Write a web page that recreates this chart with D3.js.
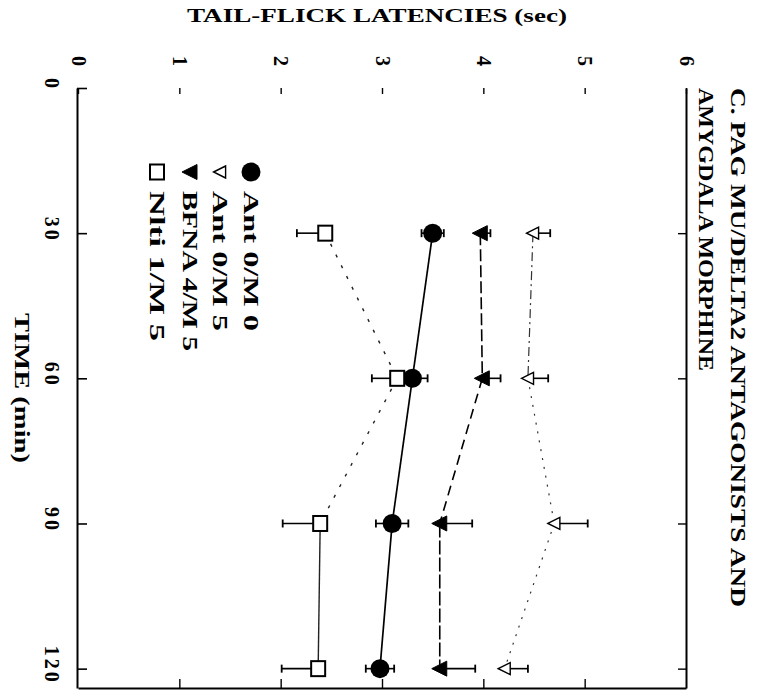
<!DOCTYPE html>
<html>
<head>
<meta charset="utf-8">
<script src="https://cdn.jsdelivr.net/npm/d3@7/dist/d3.min.js"></script>
<style>
  html, body { margin: 0; padding: 0; background: #fff; }
  svg { display: block; }
  text { font-family: "Liberation Serif", "DejaVu Serif", serif; font-weight: bold; fill: #000; }
</style>
</head>
<body>
<svg id="chart" width="760" height="698"></svg>
<script>
// Tail-flick latencies over time, page turned a quarter turn clockwise:
// time runs down the page, latency runs left to right.
const times = [30, 60, 90, 120];
const timeTicks = [0, 30, 60, 90, 120];
const latencyTicks = [0, 1, 2, 3, 4, 5, 6];

const seriesNames = ["Ant 0/M 0", "Ant 0/M 5", "BFNA 4/M 5", "Nlti 1/M 5"];
const antM0 = [3.50, 3.30, 3.10, 2.98];
const antM0Err = [0.11, 0.15, 0.16, 0.14];
const antM5 = [4.49, 4.44, 4.70, 4.21];
const antM5Err = [0.17, 0.20, 0.33, 0.23];
const bfnaM5 = [3.97, 3.99, 3.57, 3.57];
const bfnaM5Err = [0.10, 0.18, 0.32, 0.35];
const nltiM5 = [2.44, 3.15, 2.39, 2.37];
const nltiM5Err = [0.28, 0.25, 0.37, 0.36];

const axisTitle = "TAIL-FLICK LATENCIES (sec)";
const timeTitle = "TIME (min)";
const panelTitle = ["C. PAG MU/DELTA2 ANTAGONISTS AND", "AMYGDALA MORPHINE"];

const svg = d3.select("#chart");

// scales: latency -> horizontal, time -> vertical
const lat = d3.scaleLinear().domain([0, 6]).range([78, 686]);
const tm = d3.scaleLinear().domain([0, 124]).range([88, 688]);
const intFmt = d3.format("d");

function rotText(sel, x, y, txt, size, len) {
  const t = sel.append("text")
    .attr("transform", `translate(${x},${y}) rotate(90)`)
    .attr("dominant-baseline", "central")
    .style("font-size", size + "px")
    .text(txt);
  if (len) t.attr("textLength", len).attr("lengthAdjust", "spacingAndGlyphs");
  return t;
}

// ---- frame and axes ----
const timeAxis = svg.append("g").attr("transform", `translate(${lat(0) - 1},0)`)
  .call(d3.axisLeft(tm).tickValues(timeTicks).tickFormat(intFmt).tickSizeInner(-10).tickSizeOuter(0));
timeAxis.select(".domain").attr("stroke-width", 2);
timeAxis.selectAll(".tick line").attr("stroke-width", 1.6);
timeAxis.selectAll(".tick text")
  .attr("x", null).attr("dy", null).attr("fill", "#000")
  .attr("text-anchor", "middle").attr("dominant-baseline", "central")
  .attr("transform", "translate(-25,-4) rotate(90)")
  .style("font-size", "20px").style("letter-spacing", "3px");

const latAxis = svg.append("g").attr("transform", `translate(0,${tm(0)})`)
  .call(d3.axisTop(lat).tickValues(latencyTicks).tickFormat(intFmt).tickSizeInner(-6).tickSizeOuter(0));
latAxis.select(".domain").remove();
latAxis.selectAll(".tick line").attr("stroke-width", 1.4);
latAxis.selectAll(".tick text")
  .attr("y", null).attr("dy", null).attr("fill", "#000")
  .attr("text-anchor", "middle").attr("dominant-baseline", "central")
  .attr("transform", "translate(0,-27) rotate(90)")
  .style("font-size", "20px");

const bottomAxis = svg.append("g").attr("transform", `translate(0,${tm(124)})`)
  .call(d3.axisBottom(lat).tickValues([1, 2, 3, 4, 5]).tickSizeInner(-9).tickSizeOuter(0).tickFormat(""));
bottomAxis.select(".domain").attr("stroke-width", 2);
bottomAxis.selectAll(".tick line").attr("stroke-width", 1.4);

const rightAxis = svg.append("g").attr("transform", `translate(${lat(6)},0)`)
  .call(d3.axisRight(tm).tickValues(times).tickSizeInner(-8).tickSizeOuter(0).tickFormat(""));
rightAxis.select(".domain").attr("stroke-width", 2);
rightAxis.selectAll(".tick line").attr("stroke-width", 1.4);

// ---- titles ----
svg.append("text").attr("x", 187).attr("y", 22)
  .attr("textLength", 380).attr("lengthAdjust", "spacingAndGlyphs")
  .style("font-size", "19px").text(axisTitle);
rotText(svg, 22, 313, timeTitle, 20, 150);
rotText(svg, 738, 88, panelTitle[0], 20, 519);
rotText(svg, 706, 88, panelTitle[1], 20, 283);

// ---- series ----
const series = [
  { name: seriesNames[0], values: antM0, err: antM0Err },
  { name: seriesNames[1], values: antM5, err: antM5Err },
  { name: seriesNames[2], values: bfnaM5, err: bfnaM5Err },
  { name: seriesNames[3], values: nltiM5, err: nltiM5Err }
];
const style = {
  "Ant 0/M 0": { marker: "circle", errDir: "both", width: 1.7, stroke: "#000", dash: [null, null, null] },
  "Ant 0/M 5": { marker: "openTri", errDir: "up", width: 1.2, stroke: "#333", dash: ["9,4,2,4", "2,7", "2,7"] },
  "BFNA 4/M 5": { marker: "tri", errDir: "up", width: 1.6, stroke: "#000", dash: ["12,4", "10,6", "14,3"] },
  "Nlti 1/M 5": { marker: "square", errDir: "down", width: 1.4, stroke: "#222", dash: ["3,9", "3,9", null] }
};

function drawMarker(g, kind, cx, cy) {
  if (kind === "circle") {
    g.append("circle").attr("cx", cx).attr("cy", cy).attr("r", 9.5).attr("fill", "#000");
  } else if (kind === "tri" || kind === "openTri") {
    const s = kind === "tri" ? 1 : 0.8;
    g.append("path")
      .attr("d", `M${cx - 8 * s},${cy} L${cx + 7 * s},${cy - 7.5 * s} L${cx + 7 * s},${cy + 7.5 * s} Z`)
      .attr("fill", kind === "tri" ? "#000" : "#fff")
      .attr("stroke", "#000").attr("stroke-width", kind === "tri" ? 1 : 1.4);
  } else if (kind === "square") {
    g.append("rect").attr("x", cx - 7).attr("y", cy - 7.5).attr("width", 14).attr("height", 15)
      .attr("fill", "#fff").attr("stroke", "#000").attr("stroke-width", 2);
  }
}

const plot = svg.append("g");
series.forEach(s => {
  const st = style[s.name];
  const pts = times.map((t, i) => [lat(s.values[i]), tm(t)]);
  // connecting segments
  for (let i = 0; i < pts.length - 1; i++) {
    plot.append("path")
      .attr("d", d3.line()([pts[i], pts[i + 1]]))
      .attr("fill", "none").attr("stroke", st.stroke)
      .attr("stroke-width", st.width)
      .attr("stroke-dasharray", st.dash[i]);
  }
  // error bars
  times.forEach((t, i) => {
    const v = s.values[i], e = s.err[i], y = tm(t);
    const ends = st.errDir === "both" ? [v - e, v + e] : st.errDir === "up" ? [v + e] : [v - e];
    ends.forEach(end => {
      plot.append("line").attr("x1", lat(v)).attr("x2", lat(end)).attr("y1", y).attr("y2", y)
        .attr("stroke", "#000").attr("stroke-width", 1.6);
      plot.append("line").attr("x1", lat(end)).attr("x2", lat(end)).attr("y1", y - 4).attr("y2", y + 4)
        .attr("stroke", "#000").attr("stroke-width", 1.8);
    });
  });
  times.forEach((t, i) => drawMarker(plot, st.marker, lat(s.values[i]), tm(t)));
});

// ---- legend ----
const legendX = [251, 220, 190, 157];
const legendY = 172;
const legendLen = [140, 140, 160, 150];
const legend = svg.append("g");
series.forEach((s, i) => {
  drawMarker(legend, style[s.name].marker, legendX[i], legendY);
  rotText(legend, legendX[i], 191, s.name, 20, legendLen[i]);
});
</script>
</body>
</html>
